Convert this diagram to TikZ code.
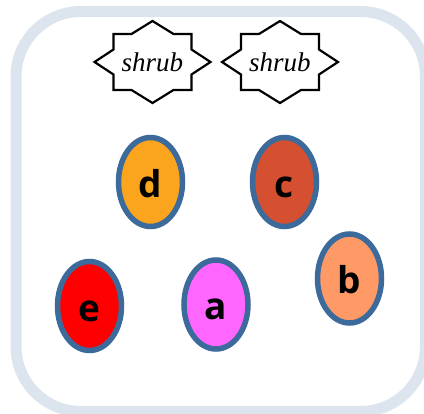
\documentclass[tikz,border=0pt]{standalone}
\usepackage{fontspec}
\setmainfont{Liberation Serif}
\newfontfamily\labfont{Open Sans}
\usetikzlibrary{shapes.geometric}
\definecolor{framecol}{HTML}{DCE4EE}
\definecolor{rimcol}{HTML}{3C6A9A}
\definecolor{dcol}{HTML}{FBA41E}
\definecolor{ccol}{HTML}{D45030}
\definecolor{bcol}{HTML}{FF9966}
\definecolor{ecol}{HTML}{FF0000}
\definecolor{acol}{HTML}{FF66FF}
\tikzset{
  egg/.style={ellipse, draw=rimcol, line width=5.5pt, minimum width=64pt, minimum height=89pt, inner sep=0pt,
    text height=31pt, text depth=0pt,
    font=\labfont\bfseries\fontsize{37}{40}\selectfont},
  shrubtext/.style={inner sep=0pt, font=\itshape\fontsize{27}{30}\selectfont},
  shrubline/.style={draw=black, line width=2.2pt, line join=miter}
}
\begin{document}
\begin{tikzpicture}[x=1pt,y=-1pt]
\useasboundingbox (0,0) rectangle (424,414);
\fill[white] (0,0) rectangle (424,414);
\draw[framecol, line width=11pt, rounded corners=65pt] (16,11.5) rectangle (425.5,411.5);

\node[shrubtext] (s1) at (152.5,62) {shrub};
\node[shrubtext] (s2) at (280,62) {shrub};
\foreach \s in {s1,s2}{
  \draw[shrubline, shift={(\s.center)}] (0,-41) -- (21,-28) -- (39,-28) -- (39,-12.5) -- (58,0) -- (39,12.5) -- (39,28) -- (21,28) -- (0,41) -- (-21,28) -- (-39,28) -- (-39,12.5) -- (-58,0) -- (-39,-12.5) -- (-39,-28) -- (-21,-28) -- cycle;
}

\node[egg, fill=dcol] (d) at (150.5,182) {d};
\node[egg, fill=ccol] (c) at (284.5,182) {c};
\node[egg, fill=bcol] (b) at (349.5,278.5) {b};
\node[egg, fill=ecol] (e) at (89.5,306) {e};
\node[egg, fill=acol] (a) at (216,304.5) {a};
\end{tikzpicture}
\end{document}
